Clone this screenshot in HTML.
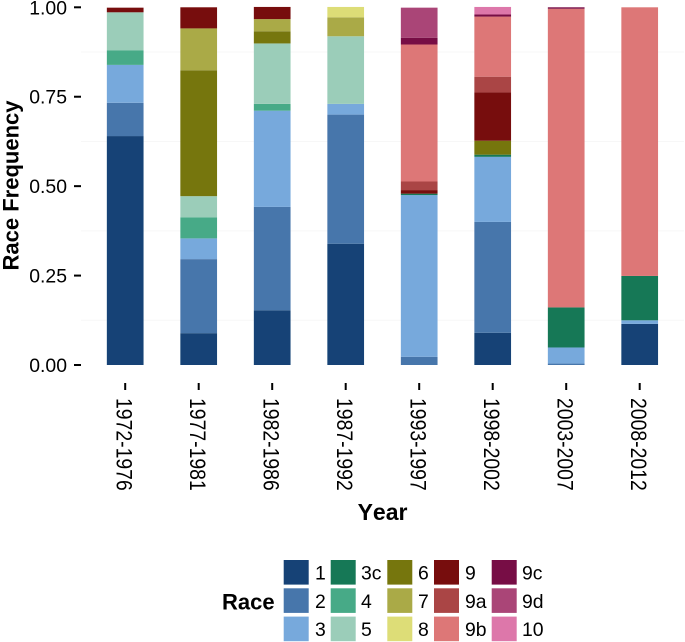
<!DOCTYPE html>
<html>
<head>
<meta charset="utf-8">
<title>Race Frequency by Year</title>
<style>
html,body{margin:0;padding:0;background:#fff;width:685px;height:642px;overflow:hidden}
svg{display:block;font-family:"Liberation Sans",Arial,sans-serif}
text{fill:#000}
</style>
</head>
<body>
<svg id="chart" width="685" height="642" viewBox="0 0 685 642" xmlns="http://www.w3.org/2000/svg">
  <defs><filter id="soft" x="-5%" y="-5%" width="110%" height="110%"><feGaussianBlur stdDeviation="0.3"/></filter></defs>
  <g id="gridlines"></g>
  <g id="bars" filter="url(#soft)"></g>
  <g id="y-axis" filter="url(#soft)"></g>
  <g id="x-axis" filter="url(#soft)"></g>
  <text transform="translate(18.5,185.5) rotate(-90)" text-anchor="middle" font-size="22" font-weight="700" filter="url(#soft)">Race Frequency</text>
  <text x="382.5" y="520" text-anchor="middle" font-size="23" font-weight="700" style="font-kerning:none" filter="url(#soft)">Year</text>
  <g id="legend" filter="url(#soft)">
    <text x="222" y="609.5" font-size="22" font-weight="700">Race</text>
  </g>
</svg>
<script>
const categories = ["1972-1976","1977-1981","1982-1986","1987-1992","1993-1997","1998-2002","2003-2007","2008-2012"];
const raceNames = ["1","2","3","3c","4","5","6","7","8","9","9a","9b","9c","9d","10"];
const raceColors = ["#134376","#4776ab","#77a9dc","#147856","#46aa87","#9bcdb9","#767611","#aaaa46","#dddd77","#771111","#aa4444","#dd7777","#771144","#aa4477","#dd77aa"];
const yTicks = [0, 0.25, 0.5, 0.75, 1];
const yTickLabels = ["0.00","0.25","0.50","0.75","1.00"];
const yMinorGrid = [0.125, 0.375, 0.625, 0.875];

const race1  = [0.640,0.089,0.153,0.339,0,0.090,0,0.115];
const race2  = [0.093,0.207,0.289,0.361,0.023,0.310,0.004,0];
const race3  = [0.106,0.058,0.269,0.030,0.452,0.182,0.045,0.010];
const race3c = [0,0,0,0,0.004,0.006,0.112,0.124];
const race4  = [0.041,0.059,0.019,0,0,0,0,0];
const race5  = [0.106,0.059,0.169,0.189,0,0,0,0];
const race6  = [0,0.352,0.034,0,0,0.039,0,0];
const race7  = [0,0.117,0.034,0.053,0,0,0,0];
const race8  = [0,0,0,0.029,0,0,0,0];
const race9  = [0.013,0.059,0.034,0,0.010,0.135,0,0];
const race9a = [0,0,0,0,0.024,0.044,0,0];
const race9b = [0,0,0,0,0.383,0.168,0.835,0.751];
const race9c = [0,0,0,0,0.019,0.006,0.004,0];
const race9d = [0,0,0,0,0.084,0,0,0];
const race10 = [0,0,0,0,0,0.021,0,0];
const raceSeries = [race1,race2,race3,race3c,race4,race5,race6,race7,race8,race9,race9a,race9b,race9c,race9d,race10];

const NS = "http://www.w3.org/2000/svg";
const plotLeft = 81, plotRight = 684, plotBottom = 365, plotTop = 7.3;
const step = 73.5, firstCenter = 125.2, barWidth = 36.7;

function xScale(i){ return firstCenter + i * step; }
function yScale(v){ return plotBottom - v * (plotBottom - plotTop); }
function make(tag, attrs, parent){
  const el = document.createElementNS(NS, tag);
  for (const k in attrs) el.setAttribute(k, attrs[k]);
  parent.appendChild(el);
  return el;
}

const gridG = document.getElementById("gridlines");
yMinorGrid.forEach(function(v){
  const line = make("line", {x1:plotLeft, x2:plotRight, y1:yScale(v), y2:yScale(v), stroke:"#f7f7f7", "stroke-width":1}, gridG);
  
  
});

const barsG = document.getElementById("bars");
categories.forEach(function(cat, c){
  let cum = 0;
  raceSeries.forEach(function(series, s){
    const v = series[c];
    if (!v) return;
    const y1 = yScale(cum + v), y0 = yScale(cum);
    const rect = make("rect", {x:xScale(c) - barWidth/2, y:y1, width:barWidth, height:y0 - y1, fill:raceColors[s]}, barsG);
    
    
    cum += v;
  });
});

const yG = document.getElementById("y-axis");
yTicks.forEach(function(v, i){
  const tick = make("line", {x1:74, x2:81, y1:yScale(v), y2:yScale(v), stroke:"#000", "stroke-width":2}, yG);
  
  
  const label = make("text", {x:67, y:yScale(v) + 7, "text-anchor":"end", "font-size":19.4}, yG);
  
  
  label.textContent = yTickLabels[i];
});

const xG = document.getElementById("x-axis");
categories.forEach(function(cat, c){
  const x = xScale(c);
  const tick = make("line", {x1:x, x2:x, y1:383, y2:390, stroke:"#000", "stroke-width":2}, xG);
  
  
  const label = make("text", {transform:"translate(" + (x - 8.5) + ",398) rotate(90) scale(1,1.13)", "font-size":19.4}, xG);
  
  
  label.textContent = cat;
});

const legendG = document.getElementById("legend");
const legendColumnX = [283.7, 330.7, 387.3, 434, 491.7];
const legendRowY = [560, 588.3, 616.6];
const legendLabelGap = [31.3, 30.3, 30.7, 31, 30.3];
raceNames.forEach(function(name, i){
  const col = Math.floor(i / 3), row = i % 3;
  const x = legendColumnX[col], y = legendRowY[row];
  const swatch = make("rect", {x:x, y:y, width:25, height:24.6, fill:raceColors[i]}, legendG);
  
  
  const label = make("text", {x:x + legendLabelGap[col], y:y + 19.5, "font-size":19.4}, legendG);
  
  
  label.textContent = name;
});
</script>
</body>
</html>
